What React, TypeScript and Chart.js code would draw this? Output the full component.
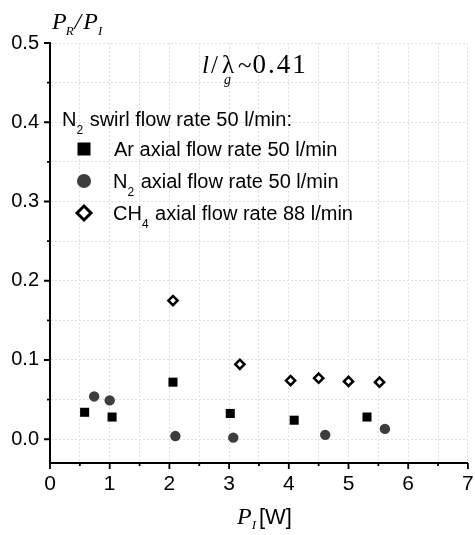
import React, { useEffect, useRef } from "react";
import { Chart, registerables } from "chart.js";

Chart.register(...registerables);

// ---- data ----
const arX = [0.58, 1.04, 2.06, 3.02, 4.09, 5.31];
const arY = [0.034, 0.028, 0.072, 0.0325, 0.024, 0.028];
const n2X = [0.74, 1.0, 2.1, 3.07, 4.61, 5.61];
const n2Y = [0.054, 0.049, 0.004, 0.002, 0.0055, 0.013];
const ch4X = [2.06, 3.18, 4.03, 4.5, 5.0, 5.52];
const ch4Y = [0.175, 0.0945, 0.074, 0.077, 0.073, 0.072];

const xMajorTicks = [0, 1, 2, 3, 4, 5, 6, 7];
const xMinorTicks = [0.5, 1.5, 2.5, 3.5, 4.5, 5.5, 6.5];
const yMajorTicks = [0, 0.1, 0.2, 0.3, 0.4, 0.5];
const yMinorTicks = [0.05, 0.15, 0.25, 0.35, 0.45];

const legendHeader = "N₂ swirl flow rate 50 l/min:";
const seriesNames = [
  "Ar axial flow rate 50 l/min",
  "N₂ axial flow rate 50 l/min",
  "CH₄ axial flow rate 88 l/min",
];

const SANS = '"Liberation Sans", Arial, sans-serif';
const SERIF = '"Liberation Serif", "Times New Roman", serif';

type Run = { t: string; f: string; dy?: number; gap?: number; ls?: string };

function drawRuns(ctx: CanvasRenderingContext2D, x: number, y: number, runs: Run[]) {
  let cx = x;
  for (const r of runs) {
    ctx.font = r.f;
    (ctx as any).letterSpacing = r.ls || "0px";
    cx += r.gap || 0;
    ctx.fillText(r.t, cx, y + (r.dy || 0));
    cx += ctx.measureText(r.t).width;
  }
  (ctx as any).letterSpacing = "0px";
}

// split "X₂" style strings into runs with real subscripts
function subRuns(text: string, size: number, subSize: number, dy: number): Run[] {
  const subs: Record<string, string> = { "₂": "2", "₄": "4" };
  const runs: Run[] = [];
  let buf = "";
  for (const ch of text) {
    if (subs[ch]) {
      if (buf) runs.push({ t: buf, f: `${size}px ${SANS}` });
      buf = "";
      runs.push({ t: subs[ch], f: `${subSize}px ${SANS}`, dy });
    } else buf += ch;
  }
  if (buf) runs.push({ t: buf, f: `${size}px ${SANS}`, gap: 1 });
  return runs;
}

const overlay = {
  id: "overlay",
  afterDraw(chart: any) {
    const ctx: CanvasRenderingContext2D = chart.ctx;
    const xs = chart.scales.x;
    const ys = chart.scales.y;
    const area = chart.chartArea;
    ctx.save();
    // tick marks
    ctx.strokeStyle = "#000";
    ctx.lineWidth = 1.8;
    ctx.beginPath();
    for (const v of xMajorTicks) {
      const px = xs.getPixelForValue(v);
      ctx.moveTo(px, area.bottom);
      ctx.lineTo(px, area.bottom + 6);
    }
    for (const v of xMinorTicks) {
      const px = xs.getPixelForValue(v);
      ctx.moveTo(px, area.bottom);
      ctx.lineTo(px, area.bottom + 3);
    }
    for (const v of yMajorTicks) {
      const py = ys.getPixelForValue(v);
      ctx.moveTo(area.left, py);
      ctx.lineTo(area.left - 6, py);
    }
    for (const v of yMinorTicks) {
      const py = ys.getPixelForValue(v);
      ctx.moveTo(area.left, py);
      ctx.lineTo(area.left - 3, py);
    }
    ctx.stroke();

    ctx.fillStyle = "#000";
    ctx.textBaseline = "alphabetic";
    ctx.textAlign = "left";
    const L = area.left;
    const T = area.top;

    // y axis title  P_R / P_I
    drawRuns(ctx, L + 2, T - 14, [
      { t: "P", f: `italic 24px ${SERIF}` },
      { t: "R", f: `italic 13px ${SERIF}`, dy: 6, gap: -1 },
      { t: "/", f: `italic 24px ${SERIF}`, gap: 1 },
      { t: "P", f: `italic 24px ${SERIF}`, gap: 2 },
      { t: "I", f: `italic 13px ${SERIF}`, dy: 6, gap: 0 },
    ]);

    // annotation  l/λg ~0.41
    const lamX = L + 165;
    drawRuns(ctx, L + 152, T + 30, [
      { t: "l", f: `italic 25px ${SERIF}` },
      { t: "/", f: `25px ${SERIF}`, gap: 2 },
    ]);
    ctx.font = `25px ${SERIF}`;
    ctx.fillText("λ", lamX + 7, T + 30);
    ctx.font = `italic 14px ${SERIF}`;
    ctx.fillText("g", lamX + 9, T + 41);
    drawRuns(ctx, L + 188, T + 30, [
      { t: "~", f: `25px ${SERIF}` },
      { t: "0.41", f: `27px ${SERIF}`, ls: "2px", gap: 1 },
    ]);

    // x axis title  P_I [W]
    drawRuns(ctx, L + 187, 524, [
      { t: "P", f: `italic 24px ${SERIF}` },
      { t: "I", f: `italic 13px ${SERIF}`, dy: 5 },
      { t: "[W]", f: `22px ${SANS}`, gap: 3 },
    ]);

    // legend
    drawRuns(ctx, L + 12, 126, subRuns(legendHeader, 20, 12, 8));
    const rowBase = [156, 188, 220];
    const ds = chart.data.datasets;
    const mx = L + 34;
    for (let i = 0; i < 3; i++) {
      const d = ds[i];
      const cy = rowBase[i] - 7;
      ctx.fillStyle = d.backgroundColor;
      ctx.strokeStyle = d.borderColor;
      if (d.pointStyle === "rect") {
        ctx.fillRect(mx - 6.5, cy - 6.5, 13, 13);
      } else if (d.pointStyle === "circle") {
        ctx.beginPath();
        ctx.arc(mx, cy, 7, 0, Math.PI * 2);
        ctx.fill();
      } else {
        ctx.lineWidth = 3;
        ctx.beginPath();
        ctx.moveTo(mx, cy - 7);
        ctx.lineTo(mx + 7, cy);
        ctx.lineTo(mx, cy + 7);
        ctx.lineTo(mx - 7, cy);
        ctx.closePath();
        ctx.fill();
        ctx.stroke();
      }
      ctx.fillStyle = "#000";
      drawRuns(ctx, L + 63, rowBase[i], subRuns(seriesNames[i], 20, 12, 8));
    }
    ctx.restore();
  },
};

export default function App() {
  const ref = useRef<HTMLCanvasElement | null>(null);
  useEffect(() => {
    document.body.style.margin = "0";
    const toPts = (xs: number[], ys: number[]) => xs.map((x, i) => ({ x, y: ys[i] }));
    const gridOpts = {
      color: "#e0e0e0",
      lineWidth: 1,
      drawTicks: false,
    };
    const chart = new Chart(ref.current as HTMLCanvasElement, {
      type: "scatter",
      data: {
        datasets: [
          {
            label: seriesNames[0],
            data: toPts(arX, arY),
            pointStyle: "rect",
            pointRadius: 6.4,
            backgroundColor: "#000000",
            borderColor: "#000000",
            borderWidth: 0,
          },
          {
            label: seriesNames[1],
            data: toPts(n2X, n2Y),
            pointStyle: "circle",
            pointRadius: 5.2,
            backgroundColor: "#3d3d3d",
            borderColor: "#3d3d3d",
            borderWidth: 0,
          },
          {
            label: seriesNames[2],
            data: toPts(ch4X, ch4Y),
            pointStyle: "rectRot",
            pointRadius: 4.6,
            backgroundColor: "#ffffff",
            borderColor: "#000000",
            borderWidth: 2.5,
          },
        ],
      },
      options: {
        animation: false,
        responsive: false,
        events: [],
        layout: { padding: { top: 43, right: 5, left: 0, bottom: 0 } },
        plugins: {
          legend: { display: false },
          tooltip: { enabled: false },
        },
        scales: {
          x: {
            type: "linear",
            min: 0,
            max: 7,
            afterBuildTicks: (s: any) => {
              s.ticks = [...xMajorTicks, ...xMinorTicks].sort((a, b) => a - b).map((v) => ({ value: v }));
            },
            afterFit: (s: any) => {
              s.height = 72;
              s.paddingLeft = 0;
              s.paddingRight = 0;
            },
            ticks: {
              autoSkip: false,
              maxRotation: 0,
              padding: 9,
              color: "#000",
              font: { family: SANS, size: 21 },
              callback: (v: any) => (xMajorTicks.includes(v) ? String(v) : ""),
            },
            grid: gridOpts,
            border: { display: true, color: "#000", width: 2, dash: [2, 2] },
          },
          y: {
            type: "linear",
            min: -0.03,
            max: 0.5,
            afterBuildTicks: (s: any) => {
              s.ticks = [...yMajorTicks, ...yMinorTicks].sort((a, b) => a - b).map((v) => ({ value: v }));
            },
            afterFit: (s: any) => {
              s.width = 50;
              s.paddingTop = 0;
              s.paddingBottom = 0;
            },
            ticks: {
              autoSkip: false,
              padding: 11,
              color: "#000",
              font: { family: SANS, size: 20 },
              callback: (v: any) => (yMajorTicks.some((m) => Math.abs(m - v) < 1e-9) ? Number(v).toFixed(1) : ""),
            },
            grid: gridOpts,
            border: { display: true, color: "#000", width: 2, dash: [2, 2] },
          },
        },
      },
      plugins: [overlay],
    });
    return () => chart.destroy();
  }, []);
  return (
    <div style={{ width: 475, height: 535 }}>
      <canvas ref={ref} width={475} height={535} />
    </div>
  );
}
